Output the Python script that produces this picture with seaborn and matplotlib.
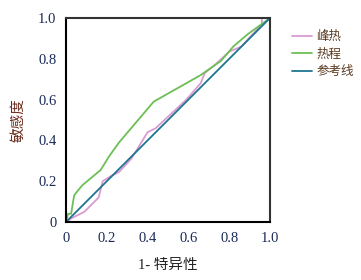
import matplotlib
matplotlib.use("Agg")
import matplotlib.pyplot as plt
import seaborn as sns
import pandas as pd

# data
peak_x = [0, 0.03, 0.09, 0.16, 0.18, 0.22, 0.26, 0.32, 0.40, 0.44, 0.59, 0.66, 0.68, 0.73, 0.80, 0.86, 0.96, 0.96, 1.0]
peak_y = [0, 0.02, 0.05, 0.12, 0.20, 0.225, 0.245, 0.31, 0.44, 0.46, 0.60, 0.68, 0.73, 0.77, 0.835, 0.86, 0.97, 1.0, 1.0]
heat_x = [0, 0.01, 0.025, 0.04, 0.055, 0.08, 0.17, 0.21, 0.26, 0.43, 0.66, 0.76, 0.82, 0.89, 1.0]
heat_y = [0, 0.04, 0.04, 0.13, 0.15, 0.18, 0.255, 0.32, 0.39, 0.59, 0.72, 0.79, 0.86, 0.92, 1.0]
ref_x = [0, 1.0]
ref_y = [0, 1.0]
series_names = ["峰热", "热程", "参考线"]
xticks = [0, 0.2, 0.4, 0.6, 0.8, 1.0]
xtick_labels = ["0", "0.2", "0.4", "0.6", "0.8", "1.0"]
yticks = [0, 0.2, 0.4, 0.6, 0.8, 1.0]
ytick_labels = ["0", "0.2", "0.4", "0.6", "0.8", "1.0"]

frames = []
for name, xs, ys in zip(series_names, [peak_x, heat_x, ref_x], [peak_y, heat_y, ref_y]):
    frames.append(pd.DataFrame({"x": xs, "y": ys, "series": name}))
df = pd.concat(frames, ignore_index=True)

sns.set_style("white")
plt.rcParams['font.family'] = ['Liberation Serif', 'Noto Sans CJK SC']

fig = plt.figure(figsize=(3.61, 2.80), dpi=100)
ax = fig.add_axes([66/361, 1-222/280, 204/361, 204/280])

palette = {"峰热": "#d99bd2", "热程": "#6cbf55", "参考线": "#1f7591"}
sns.lineplot(data=df, x="x", y="y", hue="series", sort=False, estimator=None,
             palette=palette, linewidth=1.3, ax=ax, hue_order=series_names)

ax.set_xlim(0, 1)
ax.set_ylim(0, 1)
ax.set_xticks(xticks)
ax.set_xticklabels(xtick_labels)
ax.set_yticks(yticks)
ax.set_yticklabels(ytick_labels)
ax.tick_params(axis="both", direction="out", length=4, width=1.5, labelsize=10.5,
               labelcolor="#1a2a55", color="black", pad=3)
for s in ["left", "bottom"]:
    ax.spines[s].set_color("black")
    ax.spines[s].set_linewidth(1.5)
for s in ["top", "right"]:
    ax.spines[s].set_color("#333333")
    ax.spines[s].set_linewidth(1.5)

ax.set_xlabel("1- 特异性", fontsize=10.5, color="#222222",
              family=['Liberation Serif', 'Noto Sans CJK SC'], labelpad=10)
ax.set_ylabel("敏感度", fontsize=10.5, color="#6b2a1a",
              family=['Noto Sans CJK SC'], labelpad=9)

leg = ax.legend(loc="upper left", bbox_to_anchor=(1.055, 0.995), frameon=False,
                handlelength=1.6, handletextpad=0.3, labelspacing=0.35,
                prop={"family": "Noto Sans CJK SC", "size": 9})
for t in leg.get_texts():
    t.set_color("#5a3a20")

fig.savefig("out.png", dpi=100)
